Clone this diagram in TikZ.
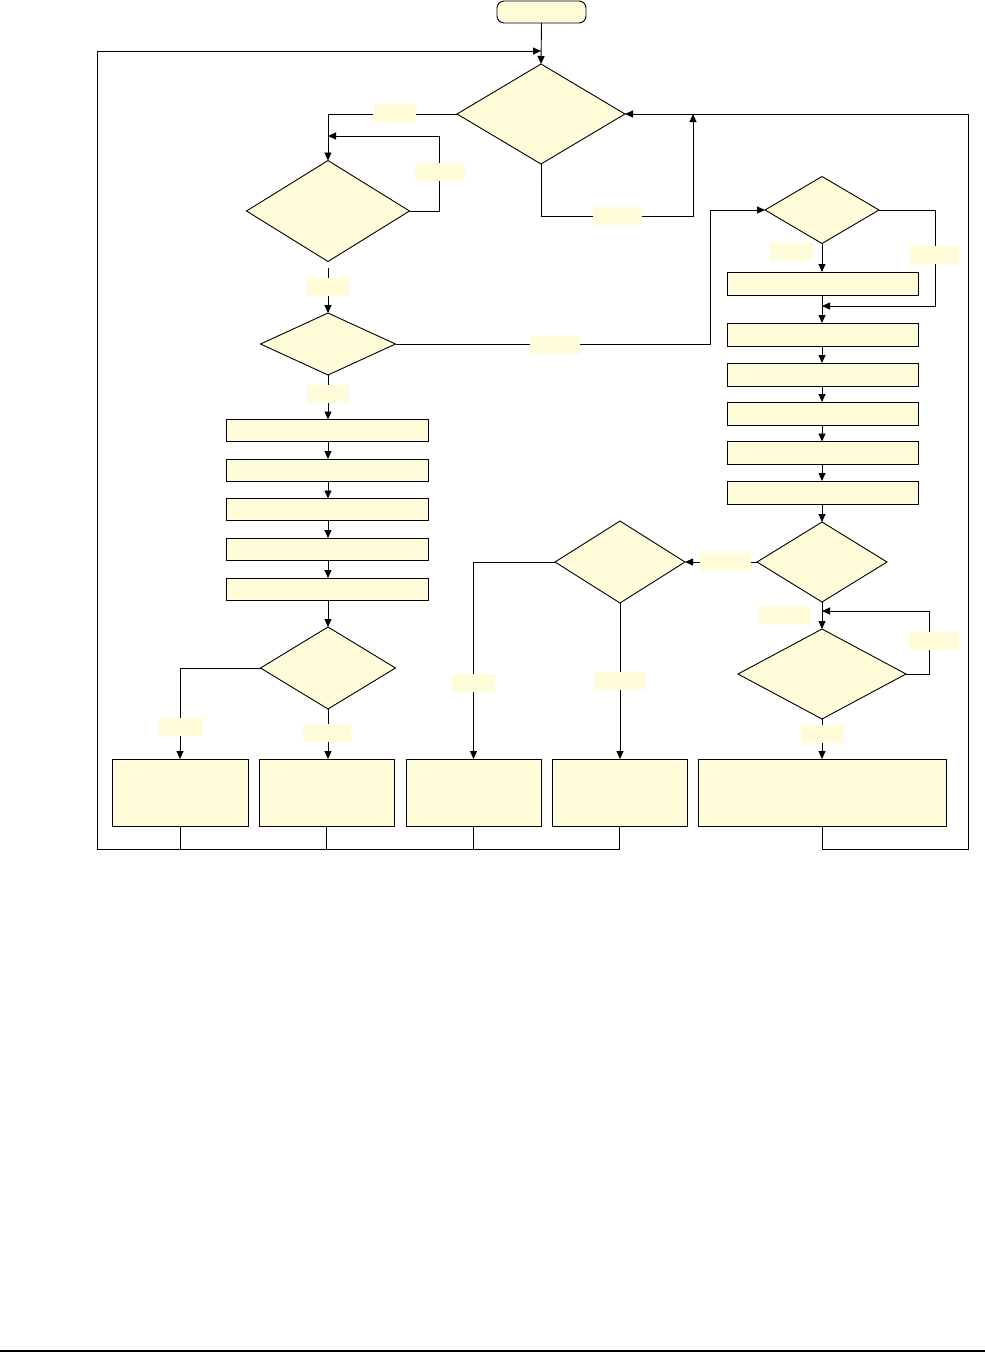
\documentclass[tikz,border=0pt]{standalone}
\usetikzlibrary{shapes.geometric,arrows.meta}
\definecolor{pale}{RGB}{255,252,218}
\begin{document}
\begin{tikzpicture}[x=1pt,y=-1pt,
  ln/.style={line width=0.9pt,black},
  arr/.style={ln,-{Triangle[length=8pt,width=7pt]}},
  dia/.style={diamond,draw,fill=pale,line width=0.9pt,inner sep=0pt,outer sep=0pt},
  box/.style={rectangle,draw,fill=pale,line width=0.9pt,inner sep=0pt,outer sep=0pt},
  term/.style={rectangle,rounded corners=7pt,draw,fill=pale,line width=0.9pt,inner sep=0pt,outer sep=0pt},
  lbl/.style={rectangle,fill=pale,inner sep=0pt,outer sep=0pt,minimum width=46pt,minimum height=18pt}]
\useasboundingbox (0,0) rectangle (985,1353);
% nodes
\node[term,minimum width=89pt,minimum height=22pt] (start) at (541.5,12) {};
\node[dia,minimum width=168pt,minimum height=100pt] (d1) at (541,114) {};
\node[dia,minimum width=163pt,minimum height=101pt] (d2) at (328,211) {};
\node[dia,minimum width=135pt,minimum height=62pt] (d3) at (328,344) {};
\foreach \n/\y in {l1/430.5,l2/470,l3/509.5,l4/549,l5/589}
  \node[box,minimum width=202pt,minimum height=22pt] (\n) at (327.5,\y) {};
\node[dia,minimum width=135pt,minimum height=82pt] (d5) at (328,668) {};
\node[box,minimum width=136pt,minimum height=67pt] (b1) at (180,792.5) {};
\node[box,minimum width=135pt,minimum height=67pt] (b2) at (326.5,792.5) {};
\node[box,minimum width=135pt,minimum height=67pt] (b3) at (473.5,792.5) {};
\node[box,minimum width=135pt,minimum height=67pt] (b4) at (619.5,792.5) {};
\node[box,minimum width=248pt,minimum height=67pt] (b5) at (822,792.5) {};
\node[dia,minimum width=114pt,minimum height=67pt] (d4) at (822,210) {};
\foreach \n/\y in {r1/283.5,r2/334.5,r3/374.5,r4/413.5,r5/453,r6/492.5}
  \node[box,minimum width=191pt,minimum height=23pt] (\n) at (822.5,\y) {};
\node[dia,minimum width=130pt,minimum height=80pt] (d6) at (822,562) {};
\node[dia,minimum width=130pt,minimum height=82pt] (d7) at (620,562) {};
\node[dia,minimum width=168pt,minimum height=90pt] (d8) at (822,674) {};
% junction coordinates
\coordinate (jtop) at (541,51);
\coordinate (j1) at (693,114);
\coordinate (j2) at (328,136);
\coordinate (j3) at (822,306);
\coordinate (j4) at (822,611);
% connectors
\draw[arr] (start.south) -- (d1.north);
\draw[arr] (b1.south) -- (180,849) -- (97,849) -- (97,51) -- (jtop);
\draw[ln] (b4.south) -- (619.5,849) -- (180,849);
\draw[ln] (b2.south) -- (b2.south |- 0,849);
\draw[ln] (b3.south) -- (b3.south |- 0,849);
\draw[arr] (b5.south) -- (822,849) -- (968,849) |- (d1.east);
\draw[arr] (d1.west) -| (d2.north);
\draw[arr] (d1.south) |- (693,216) -- (j1);
\draw[arr] (d2.east) -- (439,211) |- (j2);
\draw[arr,shorten <=6pt] (d2.south) -- (d3.north);
\draw[arr] (d3.east) -- (710,344) |- (d4.west);
\draw[arr] (d3.south) -- (l1.north -| d3.south);
\draw[arr] (l1.south -| d3.south) -- (l2.north -| d3.south);
\draw[arr] (l2.south -| d3.south) -- (l3.north -| d3.south);
\draw[arr] (l3.south -| d3.south) -- (l4.north -| d3.south);
\draw[arr] (l4.south -| d3.south) -- (l5.north -| d3.south);
\draw[arr] (l5.south -| d5.north) -- (d5.north);
\draw[arr] (d5.west) -| (b1.north);
\draw[arr] (d5.south) -- (d5.south |- b2.north);
\draw[arr] (d4.south) -- (d4.south |- r1.north);
\draw[arr] (d4.east) -- (935,210) |- (j3);
\draw[arr] (r1.south -| d4.south) -- (r2.north -| d4.south);
\draw[arr] (r2.south -| d4.south) -- (r3.north -| d4.south);
\draw[arr] (r3.south -| d4.south) -- (r4.north -| d4.south);
\draw[arr] (r4.south -| d4.south) -- (r5.north -| d4.south);
\draw[arr] (r5.south -| d4.south) -- (r6.north -| d4.south);
\draw[arr] (r6.south -| d6.north) -- (d6.north);
\draw[arr] (d6.west) -- (d7.east);
\draw[arr] (d7.west) -| (b3.north);
\draw[arr] (d7.south) -- (d7.south |- b4.north);
\draw[arr] (d6.south) -- (d8.north);
\draw[arr] (d8.east) -- (929,674) |- (j4);
\draw[arr] (d8.south) -- (d8.south |- b5.north);
% labels
\node[lbl,minimum width=43pt] (t1) at (394.5,113) {};
\node[lbl,minimum width=50pt] (t2) at (440,171.5) {};
\node[lbl,minimum width=49pt] (t3) at (617.5,216) {};
\node[lbl,minimum width=42pt] (t4) at (328,287) {};
\node[lbl,minimum width=50pt] (t5) at (555,345) {};
\node[lbl,minimum width=42pt] (t6) at (328,393.5) {};
\node[lbl,minimum width=44pt] (t7) at (181,727) {};
\node[lbl,minimum width=48pt] (t8) at (327,733) {};
\node[lbl,minimum width=43pt] (t9) at (791.5,251.5) {};
\node[lbl,minimum width=49pt] (t10) at (934.5,255) {};
\node[lbl,minimum width=51pt] (t11) at (725.5,562) {};
\node[lbl,minimum width=43pt] (t12) at (473.5,683) {};
\node[lbl,minimum width=50pt] (t13) at (620,681) {};
\node[lbl,minimum width=52pt] (t14) at (785,614.5) {};
\node[lbl,minimum width=50pt] (t15) at (934,641) {};
\node[lbl,minimum width=43pt] (t16) at (822.5,734) {};
% bottom rule
\draw[line width=1.6pt] (0,1351) -- (985,1351);
\end{tikzpicture}
\end{document}
